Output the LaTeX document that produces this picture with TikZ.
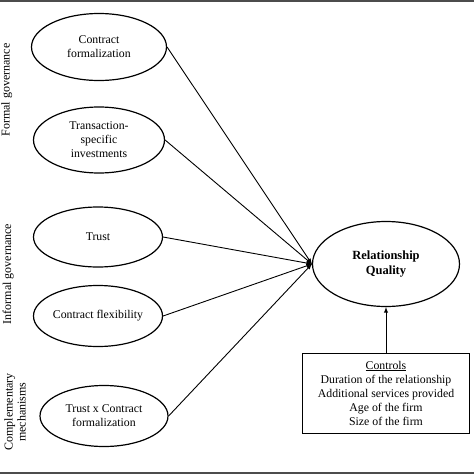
\documentclass[tikz,border=0pt]{standalone}
\usepackage{fontspec}
\setmainfont{Liberation Serif}
\usetikzlibrary{shapes.geometric,arrows}

\begin{document}
\begin{tikzpicture}[x=1pt, y=-1pt,
    construct/.style={ellipse, draw, line width=1.2pt, align=center, inner sep=0pt,
        font=\fontsize{11.8}{14}\selectfont},
    controlbox/.style={rectangle, draw, line width=0.9pt, align=center,
        minimum width=167pt, minimum height=80pt, font=\fontsize{11.8}{14}\selectfont},
    grouplabel/.style={rotate=90, align=center, font=\fontsize{12}{13}\selectfont},
    link/.style={-latex, line width=0.9pt}
]
                    \useasboundingbox (0, 0) rectangle (474, 474);
                    % Frame
                    \fill[black!70] (0, 0) rectangle (474, 2);
                    \fill[black!70] (0, 472) rectangle (474, 474);
                    % Labels
                    \node[grouplabel, anchor=base] (formal) at (9.5, 90) {Formal governance};
                    \node[grouplabel, anchor=base] (informal) at (11, 274) {Informal governance};
                    \node[grouplabel] (compl) at (15, 412) {Complementary\\mechanisms};
                    % Constructs
                    \node[construct, minimum width=135pt, minimum height=67pt] (cf) at (99, 47) {Contract\\formalization};
                    \node[construct, minimum width=131pt, minimum height=66pt] (tsi) at (99, 140) {Transaction-\\specific\\investments};
                    \node[construct, minimum width=129pt, minimum height=60pt] (trust) at (98, 237) {Trust};
                    \node[construct, minimum width=129pt, minimum height=61pt] (flex) at (98, 316) {Contract flexibility};
                    \node[construct, minimum width=128pt, minimum height=61pt] (txcf) at (104, 416) {Trust x Contract\\formalization};
                    % Outcome
                    \node[construct, minimum width=147pt, minimum height=85pt,
                        font=\fontsize{12.5}{15}\selectfont\bfseries] (rq) at (386, 264) {Relationship\\Quality};
                    % Controls
                    \node[controlbox] (controls) at (386, 393) {\underline{Controls}\\Duration of the relationship\\Additional services provided\\Age of the firm\\Size of the firm};
                    % Paths
                    \draw[link] (cf.east) -- (rq.west);
                    \draw[link] (tsi.east) -- (rq.west);
                    \draw[link] (trust.east) -- (rq.west);
                    \draw[link] (flex.east) -- (rq.west);
                    \draw[link] (txcf.east) -- (rq.west);
                    \draw[link] (controls.north) -- (rq.south);
\end{tikzpicture}
\end{document}
